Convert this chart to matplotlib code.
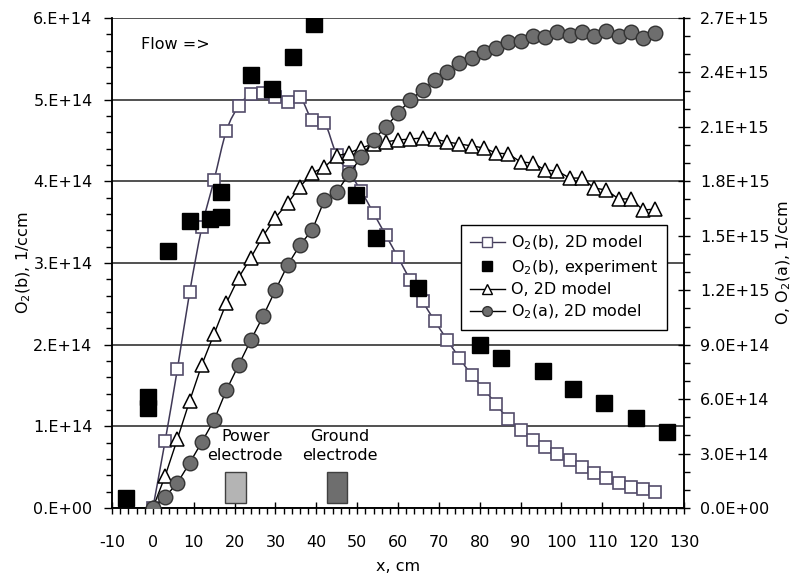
import numpy as np
import matplotlib
matplotlib.use('Agg')
import matplotlib.pyplot as plt
from matplotlib.path import Path
from matplotlib.patches import PathPatch, Rectangle
from matplotlib.ticker import MultipleLocator, FuncFormatter
from matplotlib.lines import Line2D

plt.rcParams['font.family'] = ['DejaVu Sans']
plt.rcParams['font.size'] = 11
plt.rcParams['axes.unicode_minus'] = False

# 2D model grid, cm
x_model = [0, 3, 6, 9, 12, 15, 18, 21, 24, 27, 30, 33, 36, 39, 42, 45, 48, 51, 54, 57, 60,
           63, 66, 69, 72, 75, 78, 81, 84, 87, 90, 93, 96, 99, 102, 105, 108, 111, 114,
           117, 120, 123]

# O2(b), 2D model, 1e14 1/ccm (left axis)
o2b_model = [0.0, 0.82, 1.70, 2.64, 3.44, 4.02, 4.62, 4.92, 5.07, 5.08, 5.03, 4.97, 5.03,
             4.75, 4.72, 4.32, 4.11, 3.88, 3.61, 3.34, 3.07, 2.79, 2.53, 2.29, 2.06, 1.84,
             1.63, 1.46, 1.27, 1.09, 0.95, 0.83, 0.75, 0.66, 0.59, 0.50, 0.43, 0.37, 0.31,
             0.26, 0.23, 0.20]

# O2(b), experiment
x_exp = [-6.6, -1.2, -1.2, 3.7, 9.1, 14.0, 16.7, 16.7, 24.0, 29.2, 34.3, 39.4, 49.6, 54.7,
         64.9, 80.1, 85.2, 95.5, 102.8, 110.4, 118.2, 125.8]
o2b_exp = [0.12, 1.36, 1.22, 3.15, 3.51, 3.54, 3.56, 3.87, 5.30, 5.13, 5.52, 5.93, 3.83,
           3.31, 2.69, 1.99, 1.84, 1.68, 1.46, 1.29, 1.10, 0.93]

# O, 2D model, 1e15 1/ccm (right axis)
o_model = [0.0, 0.176, 0.38, 0.59, 0.79, 0.96, 1.13, 1.27, 1.38, 1.50, 1.60, 1.68, 1.77,
           1.846, 1.879, 1.940, 1.956, 1.984, 2.006, 2.017, 2.028, 2.033, 2.039, 2.033,
           2.017, 2.006, 1.995, 1.984, 1.956, 1.951, 1.907, 1.901, 1.862, 1.857, 1.818,
           1.818, 1.763, 1.752, 1.703, 1.703, 1.642, 1.647]

# O2(a), 2D model, 1e15 1/ccm (right axis)
o2a_model = [0.0, 0.061, 0.138, 0.248, 0.364, 0.485, 0.650, 0.788, 0.926, 1.058, 1.201,
             1.339, 1.449, 1.532, 1.697, 1.741, 1.840, 1.934, 2.028, 2.099, 2.176, 2.248,
             2.303, 2.358, 2.402, 2.452, 2.480, 2.513, 2.535, 2.568, 2.573, 2.601, 2.595,
             2.623, 2.606, 2.623, 2.601, 2.628, 2.601, 2.623, 2.590, 2.617]

o2b_model = np.array(o2b_model) * 1e14
o2b_exp = np.array(o2b_exp) * 1e14
o_model = np.array(o_model) * 1e15
o2a_model = np.array(o2a_model) * 1e15

line_col = '#3f3856'
sq_col = '#544d6b'


def smooth_path(xs, ys):
    # excel-like smoothed line (catmull-rom as bezier)
    pts = np.column_stack([xs, ys]).astype(float)
    n = len(pts)
    verts = [pts[0]]
    codes = [Path.MOVETO]
    for i in range(n - 1):
        p0 = pts[i - 1] if i > 0 else pts[i]
        p1 = pts[i]
        p2 = pts[i + 1]
        p3 = pts[i + 2] if i + 2 < n else pts[i + 1]
        verts += [p1 + (p2 - p0) / 6, p2 - (p3 - p1) / 6, p2]
        codes += [Path.CURVE4] * 3
    return Path(verts, codes)


fig = plt.figure(figsize=(7.95, 5.78), dpi=100)
ax = fig.add_axes([0.1409, 0.1211, 0.7195, 0.8478])
ax2 = ax.twinx()

# gridlines
ax.set_axisbelow(True)
ax.yaxis.grid(True, which='major', color='#222222', lw=1.1)

ax.add_patch(PathPatch(smooth_path(x_model, o2b_model), fill=False, edgecolor=line_col,
                       lw=1.1, zorder=2))
ax.plot(x_model, o2b_model, ls='none', marker='s', ms=9, mfc='white', mec=sq_col,
        mew=1.2, zorder=3)
ax.plot(x_exp, o2b_exp, ls='none', marker='s', ms=11.5, mfc='black', mec='black', zorder=4)

ax2.plot(x_model, o_model, color='black', lw=1, marker='^', ms=10, mfc='white',
         mec='black', mew=1.1, zorder=3)
ax2.plot(x_model, o2a_model, color='black', lw=1, marker='o', ms=10.5, mfc='#6e6e6e',
         mec='#333333', mew=1.0, zorder=4)

# electrodes
ax.add_patch(Rectangle((17.7, 0.06e14), 5.2, 0.38e14, facecolor='#b4b4b4',
                       edgecolor='#404040', lw=1, zorder=2))
ax.add_patch(Rectangle((42.6, 0.06e14), 5.0, 0.38e14, facecolor='#6e6e6e',
                       edgecolor='#404040', lw=1, zorder=2))
ax.text(22.6, 0.76e14, 'Power\nelectrode', ha='center', va='center', fontsize=11.5,
        linespacing=1.3)
ax.text(45.8, 0.76e14, 'Ground\nelectrode', ha='center', va='center', fontsize=11.5,
        linespacing=1.3)
ax.text(-2.9, 5.67e14, 'Flow =>', ha='left', va='center', fontsize=11.5)

# axes
ax.set_xlim(-10, 130)
ax.set_ylim(0, 6e14)
ax2.set_ylim(0, 2.7e15)
ax.xaxis.set_major_locator(MultipleLocator(10))
ax.xaxis.set_minor_locator(MultipleLocator(2))
ax.yaxis.set_major_locator(MultipleLocator(1e14))
ax.yaxis.set_minor_locator(MultipleLocator(0.2e14))
ax2.yaxis.set_major_locator(MultipleLocator(3e14))
ax2.yaxis.set_minor_locator(MultipleLocator(1e14))
ax.yaxis.set_major_formatter(FuncFormatter(lambda v, p: format(v, '#.0E')))
ax2.yaxis.set_major_formatter(FuncFormatter(lambda v, p: format(v, '.1E')))
ax.yaxis.get_offset_text().set_visible(False)
ax2.yaxis.get_offset_text().set_visible(False)

ax.tick_params(axis='x', which='major', direction='inout', length=9, width=1, pad=15,
               labelsize=11.5)
ax.tick_params(axis='x', which='minor', direction='out', length=4, width=1)
ax.tick_params(axis='y', which='major', direction='out', length=6, width=1, pad=8,
               labelsize=11.5)
ax.tick_params(axis='y', which='minor', direction='out', length=4, width=1)
ax2.tick_params(axis='y', which='major', direction='inout', length=9, width=1, pad=7,
                labelsize=11.5)
ax2.tick_params(axis='y', which='minor', direction='out', length=4, width=1)

for a in (ax, ax2):
    a.spines['top'].set_visible(False)
    for s in ('left', 'right', 'bottom'):
        a.spines[s].set_linewidth(1.1)

ax.set_xlabel('x, cm', fontsize=11.5)
ax.set_ylabel('O$_2$(b), 1/ccm', fontsize=11.5)
ax2.set_ylabel('O, O$_2$(a), 1/ccm', fontsize=11.5)
ax.xaxis.set_label_coords(0.5, -0.105)
ax.yaxis.set_label_coords(-0.138, 0.5)
ax2.yaxis.set_label_coords(1.158, 0.5)

handles = [
    Line2D([], [], color=line_col, lw=1, marker='s', ms=7, mfc='white', mec=sq_col),
    Line2D([], [], ls='none', marker='s', ms=7, mfc='black', mec='black'),
    Line2D([], [], color='black', lw=1, marker='^', ms=7, mfc='white', mec='black'),
    Line2D([], [], color='black', lw=1, marker='o', ms=7, mfc='#6e6e6e', mec='#333333'),
]
labels = ['O$_2$(b), 2D model', 'O$_2$(b), experiment', 'O, 2D model',
          'O$_2$(a), 2D model']
leg = ax2.legend(handles, labels, loc='lower left', bbox_to_anchor=(0.61, 0.363),
                 fontsize=11.5, frameon=True, fancybox=False, framealpha=1,
                 edgecolor='black', handlelength=2.2, handletextpad=0.4,
                 labelspacing=0.35, borderpad=0.55, borderaxespad=0)
leg.get_frame().set_linewidth(1)

fig.savefig('out.png', dpi=100)
